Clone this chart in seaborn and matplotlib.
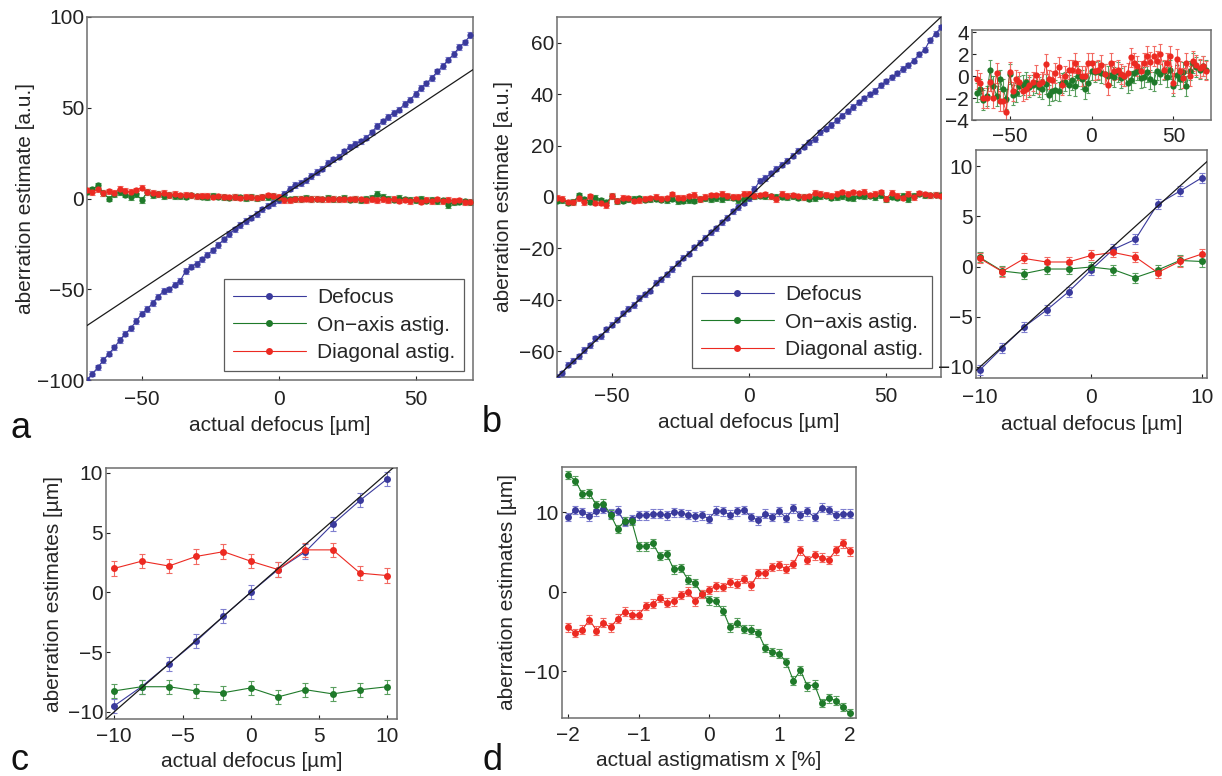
import numpy as np
import pandas as pd
import matplotlib
matplotlib.use('Agg')
import matplotlib.pyplot as plt
from matplotlib.lines import Line2D
import seaborn as sns

sns.set_theme(style='white')
plt.rcParams['font.family'] = ['Liberation Sans', 'DejaVu Sans']

# ---- data ----
x_wide = list(range(-70, 71, 2))   # actual defocus, panels a / b

a_defocus = [-100, -96.5, -93, -89, -85.5, -82, -78, -74.5, -71.5, -67.5, -63.5, -61, -57.5, -54, -51, -50,
             -47.5, -45.5, -40, -37.5, -36, -33.5, -31, -28.5, -25.5, -22.5, -19.5, -17, -14.5, -12.5, -10.5,
             -8.5, -6, -4, -2.5, -1, 2.5, 5.5, 7.5, 8.5, 10, 12.5, 14.5, 16.5, 19.5, 21.5, 23, 26, 28.5, 30,
             31.5, 33.5, 36.5, 40, 42.5, 45, 47, 49, 52, 54.5, 57.5, 61, 63.5, 66.5, 70, 73, 76.5, 79.5, 83.5,
             86, 90]
a_onaxis = [3.8, 5.0, 7.3, 3.0, 0.0, 2.5, 3.5, 2.2, 0.8, 2.5, -0.9, 3.5, 2.0, 2.5, 1.5, 2.0, 1.2, 1.5, 1.0,
            1.8, 1.2, 1.0, 0.8, 1.5, 1.0, 0.6, 0.5, 1.0, 0.7, 0.2, 0.8, 0.3, 0.6, 0.9, 1.2, 0.4, 0.2, -0.5,
            0.0, -0.3, 0.3, -0.2, 0.0, -0.5, 0.4, -0.2, -0.4, 0.2, -0.6, -0.3, -0.9, -0.2, 0.2, 2.7, 0.8,
            -0.2, -0.6, 0.5, -0.4, -0.7, -0.9, -0.3, -1.2, -0.7, -1.5, -1.0, -3.7, -2.0, -1.8, -1.5, -2.2]
a_diagonal = [4.5, 3.7, 5.0, 3.0, 4.0, 3.0, 5.5, 4.2, 3.5, 4.5, 6.0, 3.5, 3.0, 2.5, 3.0, 2.0, 2.6, 1.8, 2.2,
              1.8, 1.2, 1.6, 1.5, 1.0, 1.2, 1.0, 0.6, 0.8, 0.5, 0.8, 0.7, 0.5, 0.8, 1.8, 1.6, 1.0, -0.9, -0.8,
              -0.4, -0.2, 0.0, -0.3, -0.1, -0.4, -0.2, 0.0, -0.5, -0.3, -0.5, -0.2, -0.4, -0.9, -0.3, -0.8,
              -0.5, -1.0, -0.3, -1.2, -0.6, -1.5, -0.4, -1.8, -0.6, -1.3, -0.5, -1.6, -0.8, -1.4, -1.0, -1.9,
              -1.8]

b_defocus = [-70.0, -68.5, -65.2, -63.6, -62.0, -59.5, -57.7, -55.0, -54.2, -51.4, -49.6, -47.8, -45.3,
             -43.5, -42.0, -39.3, -37.8, -36.5, -33.4, -32.0, -30.1, -28.0, -25.8, -23.6, -22.1, -19.6,
             -17.8, -15.9, -13.7, -12.2, -9.9, -8.0, -5.6, -3.9, -2.2, -0.5, 3.2, 6.3, 7.4, 9.2, 11.0, 12.6,
             14.1, 16.0, 18.0, 19.5, 21.3, 22.4, 25.2, 26.6, 28.0, 29.8, 31.6, 33.4, 35.0, 36.8, 38.4, 40.0,
             41.2, 43.5, 45.0, 46.6, 48.1, 49.8, 51.3, 53.0, 55.5, 57.2, 61.0, 63.5, 66.0]
b_onaxis = [-1.5, -1.2, -2.2, -1.8, 0.6, -0.9, -1.8, -0.3, -1.2, -2.1, 0.2, -1.7, -1.5, -0.9, -0.8, -0.5,
            -1.0, -0.8, -0.6, -1.0, -1.2, -0.7, -1.7, -1.4, -1.3, -1.4, -0.6, -0.5, -0.8, -0.4, -0.9, 0.0,
            -0.3, -1.2, -0.6, 0.5, 0.4, 0.5, 0.3, 0.2, 0.0, 0.1, -0.1, 0.4, -0.2, 0.0, -0.6, -0.4, 0.3, 0.5,
            -0.2, -0.1, 0.4, -0.3, -0.5, 0.5, 0.2, 0.5, -0.1, 0.6, -0.9, 0.1, -0.3, 0.4, -0.9, 0.5, 1.2,
            0.8, 0.6, 0.9, 0.6]
b_diagonal = [-0.3, -0.6, -2.0, -2.0, -0.5, -2.0, 0.3, -2.3, -2.3, -3.3, 0.4, -1.4, -0.3, -0.5, -1.4, -1.2,
              -0.8, -0.5, 0.1, -0.7, -0.5, 1.1, -0.3, -0.4, 0.3, 0.8, -0.8, 0.0, 0.6, 0.6, 1.2, 0.5, 0.0,
              0.0, 1.2, 1.2, 0.5, 0.6, 1.0, 0.2, -0.8, 1.2, 0.5, 0.6, 0.2, 0.0, 0.3, 1.7, 1.2, 0.9, 0.5,
              1.2, 1.8, 1.3, 1.8, 1.4, 2.0, 0.6, 1.2, 1.8, -0.6, 1.6, 0.5, -0.2, 1.2, 0.0, 1.4, 1.0, 0.7,
              0.9, 0.5]

x_small = [-10, -8, -6, -4, -2, 0, 2, 4, 6, 8, 10]   # actual defocus, inset / panel c
inset_defocus = [-10.3, -8.1, -6.0, -4.35, -2.5, -0.35, 1.7, 2.7, 6.2, 7.5, 8.85]
inset_onaxis = [0.9, -0.45, -0.7, -0.25, -0.25, -0.05, -0.3, -1.1, -0.35, 0.6, 0.5]
inset_diagonal = [0.8, -0.5, 0.8, 0.45, 0.45, 1.1, 1.4, 0.95, -0.6, 0.5, 1.25]

c_defocus = [-9.5, -7.9, -6.0, -4.1, -2.0, 0.0, 1.9, 3.4, 5.7, 7.7, 9.5]
c_onaxis = [-8.25, -7.9, -7.9, -8.25, -8.4, -8.0, -8.75, -8.15, -8.5, -8.15, -7.9]
c_diagonal = [2.0, 2.6, 2.2, 3.0, 3.4, 2.6, 1.9, 3.55, 3.55, 1.6, 1.4]

x_astig = [-2.0, -1.9, -1.8, -1.7, -1.6, -1.5, -1.4, -1.3, -1.2, -1.1, -1.0, -0.9, -0.8, -0.7, -0.6, -0.5,
           -0.4, -0.3, -0.2, -0.1, 0.0, 0.1, 0.2, 0.3, 0.4, 0.5, 0.6, 0.7, 0.8, 0.9, 1.0, 1.1, 1.2, 1.3, 1.4,
           1.5, 1.6, 1.7, 1.8, 1.9, 2.0]
d_defocus = [9.4, 10.3, 10.0, 9.5, 10.1, 10.4, 9.8, 10.2, 8.8, 9.1, 9.6, 9.6, 9.8, 9.8, 9.6, 10.0, 9.9, 9.7,
             9.5, 9.6, 9.2, 10.2, 10.1, 9.7, 10.1, 10.3, 9.4, 9.0, 9.8, 9.4, 10.1, 9.3, 10.5, 9.6, 10.1, 9.4,
             10.6, 10.3, 9.6, 9.8, 9.8]
d_onaxis = [14.7, 14.0, 12.3, 12.4, 10.9, 11.1, 9.7, 7.9, 8.9, 8.9, 5.7, 5.7, 6.1, 4.5, 4.7, 2.8, 3.0, 1.5,
            1.1, -0.3, -1.1, -1.2, -2.4, -4.5, -3.9, -4.7, -4.8, -5.2, -7.1, -7.6, -7.8, -8.9, -11.2, -9.9,
            -11.9, -11.7, -14.0, -13.4, -13.7, -14.5, -15.3]
d_diagonal = [-4.5, -5.2, -4.8, -3.5, -4.9, -3.9, -4.5, -3.4, -2.5, -2.9, -2.9, -1.8, -1.5, -0.8, -1.4, -1.2,
              -0.4, 0.0, -1.2, -0.3, 0.2, 0.7, 0.6, 1.2, 1.0, 1.6, 0.8, 2.3, 2.3, 3.1, 3.3, 2.9, 3.5, 5.2, 4.0,
              4.6, 4.3, 4.0, 5.2, 6.1, 5.1]

names = ['Defocus', 'On\u2212axis astig.', 'Diagonal astig.']
colors = ['#3a3a9c', '#1f7a2a', '#ec2a22']
err_colors = ['#7f7fcf', '#5a9f5f', '#f26a62']

FS = 15
W, H = 1222, 776
fig = plt.figure(figsize=(W / 100, H / 100), dpi=100)


def box(l, t, r, b):
    return fig.add_axes([l / W, 1 - b / H, (r - l) / W, (b - t) / H])


def draw(ax, x, series, err, ms=4.5, lw=0.8, cap=2):
    for y, c, ec in zip(series, colors[3 - len(series):], err_colors[3 - len(series):]):
        ax.errorbar(x, y, yerr=err, fmt='none', ecolor=ec, elinewidth=0.8, capsize=cap, capthick=0.8, zorder=2)
        sns.lineplot(x=x, y=y, ax=ax, color=c, marker='o', markersize=ms, markeredgewidth=0,
                     linewidth=lw, zorder=3, legend=False)


def style(ax, xlim, ylim, xticks, yticks, xpad=7, ypad=2):
    ax.set_xlim(xlim)
    ax.set_ylim(ylim)
    ax.set_xticks(xticks)
    ax.set_yticks(yticks)
    ax.tick_params(direction='in', length=3, width=0.8, labelsize=FS, colors='#222222',
                   bottom=True, left=True)
    ax.tick_params(axis='x', pad=xpad)
    ax.tick_params(axis='y', pad=ypad)
    for s in ax.spines.values():
        s.set_color('#6e6e6e')
        s.set_linewidth(1.1)


def diag(ax):
    ax.axline((0, 0), slope=1, color='#1a1a1a', lw=0.9, zorder=4)


def legend(ax):
    handles = [Line2D([], [], color=c, marker='o', markersize=5, markeredgewidth=0, lw=0.8) for c in colors]
    ax.legend(handles, names, loc='lower right', fontsize=FS, handlelength=3.5, frameon=True,
              fancybox=False, edgecolor='#333333', borderaxespad=0.45, labelspacing=0.42,
              handletextpad=0.55, borderpad=0.4).get_frame().set_linewidth(0.9)


# ---- a ----
ax_a = box(87, 17, 473, 380)
draw(ax_a, x_wide, [a_defocus, a_onaxis, a_diagonal], 1.5, ms=4.5)
diag(ax_a)
style(ax_a, (-70, 71), (-100, 100), [-50, 0, 50], [-100, -50, 0, 50, 100])
ax_a.set_xlabel('actual defocus [\u00b5m]', fontsize=FS, labelpad=5)
ax_a.set_ylabel('aberration estimate [a.u.]', fontsize=FS, labelpad=1)
legend(ax_a)

# ---- b ----
ax_b = box(557, 17, 941, 377)
draw(ax_b, x_wide, [b_defocus, b_onaxis, b_diagonal], 1.0, ms=4.5)
diag(ax_b)
style(ax_b, (-70, 70), (-70, 70), [-50, 0, 50], [-60, -40, -20, 0, 20, 40, 60])
ax_b.set_xlabel('actual defocus [\u00b5m]', fontsize=FS, labelpad=5)
ax_b.set_ylabel('aberration estimate [a.u.]', fontsize=FS, labelpad=4)
legend(ax_b)

# ---- b inset top ----
ax_t = box(972, 30, 1211, 120)
draw(ax_t, x_wide, [b_onaxis, b_diagonal], 0.9, ms=4.5, lw=0.6, cap=1.5)
style(ax_t, (-73, 73), (-4, 4.2), [-50, 0, 50], [-4, -2, 0, 2, 4], xpad=5)

# ---- b inset bottom ----
ax_i = box(976, 150, 1207, 378)
draw(ax_i, x_small, [inset_defocus, inset_onaxis, inset_diagonal], 0.5, ms=5)
diag(ax_i)
style(ax_i, (-10.35, 10.45), (-11.1, 11.6), [-10, 0, 10], [-10, -5, 0, 5, 10])
ax_i.set_xlabel('actual defocus [\u00b5m]', fontsize=FS, labelpad=6)

# ---- c ----
ax_c = box(106, 468, 397, 719)
draw(ax_c, x_small, [c_defocus, c_onaxis, c_diagonal], 0.6, ms=5)
diag(ax_c)
style(ax_c, (-10.6, 10.7), (-10.6, 10.4), [-10, -5, 0, 5, 10], [-10, -5, 0, 5, 10], xpad=6)
ax_c.set_xlabel('actual defocus [\u00b5m]', fontsize=FS, labelpad=4)
ax_c.set_ylabel('aberration estimates [\u00b5m]', fontsize=FS, labelpad=3)

# ---- d ----
ax_d = box(562, 467, 856, 718)
draw(ax_d, x_astig, [d_defocus, d_onaxis, d_diagonal], 0.55, ms=5)
style(ax_d, (-2.09, 2.09), (-15.9, 15.7), [-2, -1, 0, 1, 2], [-10, 0, 10], xpad=6)
ax_d.set_xlabel('actual astigmatism x [%]', fontsize=FS, labelpad=4)
ax_d.set_ylabel('aberration estimates [\u00b5m]', fontsize=FS, labelpad=5)

for t, (px, py) in zip('abcd', [(10, 438), (482, 432), (10, 770), (482, 770)]):
    fig.text(px / W, 1 - py / H, t, fontsize=26, color='#111111', va='baseline', ha='left')

fig.savefig('out.png', dpi=100)
